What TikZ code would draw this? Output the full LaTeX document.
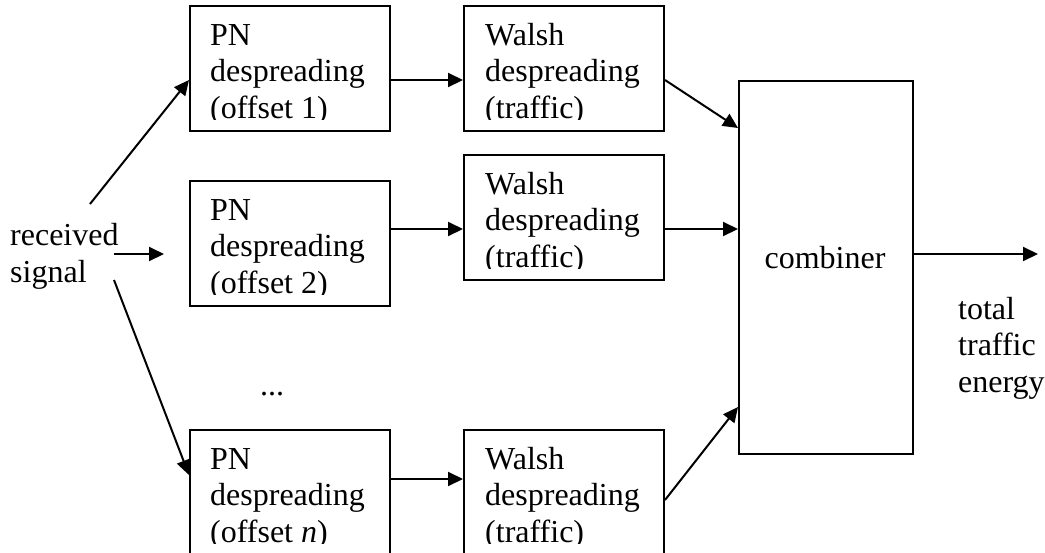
\documentclass[tikz,border=0pt]{standalone}
\usepackage{fontspec}
\setmainfont{Liberation Serif}
\usetikzlibrary{arrows.meta,calc}
\begin{document}
\begin{tikzpicture}[x=1pt,y=-1pt,
  box/.style={draw,line width=2pt,minimum width=200pt,minimum height=125pt,inner sep=0pt,anchor=north west},
  cbox/.style={draw,line width=2pt,minimum width=174pt,minimum height=373pt,inner sep=0pt,anchor=north west},
  lbl/.style={font=\fontsize{32}{36.5}\selectfont,align=left,inner sep=0pt,anchor=base west},
  arr/.style={line width=2pt,-{Triangle[length=15pt,width=14pt]}}]
\useasboundingbox (0,0) rectangle (1045,552);
% boxes
\node[box] (pn1) at (189,5) {};
\node[box] (w1) at (463,5) {};
\node[box] (pn2) at (189,180) {};
\node[box] (w2) at (463,154) {};
\node[box] (pnn) at (189,429) {};
\node[box] (wn) at (463,429) {};
\node[cbox] (comb) at (738,80) {};
% texts (clipped at the box bottom like the original); placed by the baseline of the last line
\begin{scope}\clip (189,5) rectangle (389,119);
\node[lbl] (tpn1) at (210,118) {PN\\despreading\\(offset 1)};\end{scope}
\begin{scope}\clip (463,5) rectangle (663,119);
\node[lbl] (tw1) at (485,118) {Walsh\\despreading\\(traffic)};\end{scope}
\begin{scope}\clip (189,180) rectangle (389,294);
\node[lbl] (tpn2) at (210,293) {PN\\despreading\\(offset 2)};\end{scope}
\begin{scope}\clip (463,154) rectangle (663,268);
\node[lbl] (tw2) at (485,267) {Walsh\\despreading\\(traffic)};\end{scope}
\begin{scope}\clip (189,429) rectangle (389,543);
\node[lbl] (tpnn) at (210,542) {PN\\despreading\\(offset \textit{n})};\end{scope}
\begin{scope}\clip (463,429) rectangle (663,543);
\node[lbl] (twn) at (485,542) {Walsh\\despreading\\(traffic)};\end{scope}
\node[lbl,anchor=base] (tcomb) at (825,268) {combiner};
\node[lbl] (recv) at (10,282) {received\\signal};
\node[lbl] (out) at (958,392) {total\\traffic\\energy};
\node[lbl,anchor=base] (dots) at (272,395) {...};
% free ends
\coordinate (r1) at (90,204);
\coordinate (r2) at (114,254);
\coordinate (r2e) at (164,254);
\coordinate (r3) at (114,280);
\coordinate (oe) at (1038,254);
% connectors
\draw[arr] (r1) -- ($(pn1.north west)+(0,75)$);
\draw[arr] (r2) -- (r2e);
\draw[arr] (r3) -- ($(pnn.north west)+(0,46)$);
\draw[arr] ($(pn1.north east)+(0,75)$) -- ($(w1.north west)+(0,75)$);
\draw[arr] ($(pn2.north east)+(0,49)$) -- ($(w2.north west)+(0,75)$);
\draw[arr] ($(pnn.north east)+(0,50)$) -- ($(wn.north west)+(0,50)$);
\draw[arr] ($(w1.north east)+(0,75)$) -- ($(comb.north west)+(0,48)$);
\draw[arr] ($(w2.north east)+(0,75)$) -- ($(comb.north west)+(0,149)$);
\draw[arr] ($(wn.north east)+(0,71)$) -- ($(comb.north west)+(0,327)$);
\draw[arr] ($(comb.north east)+(0,174)$) -- (oe);
\end{tikzpicture}
\end{document}
